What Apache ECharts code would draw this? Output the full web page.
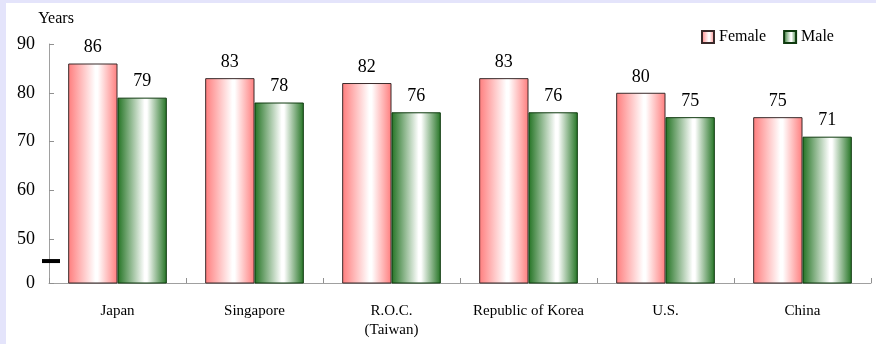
<!DOCTYPE html>
<html>
<head>
<meta charset="utf-8">
<script src="https://cdn.jsdelivr.net/npm/echarts@6/dist/echarts.min.js"></script>
<style>
  html, body { margin: 0; padding: 0; background: #fff; }
  #chart { width: 876px; height: 344px; }
</style>
</head>
<body>
<div id="chart"></div>
<script>
// Life expectancy at birth by country, in years
const countries = ['Japan', 'Singapore', 'R.O.C.\n(Taiwan)', 'Republic of Korea', 'U.S.', 'China'];
const female = [86, 83, 82, 83, 80, 75];
const male = [79, 78, 76, 76, 75, 71];
// Value axis: lower part is cut, the bottom is still labelled 0
const axisBottom = 41;
const axisTop = 90;
const tickValues = [41, 50, 60, 70, 80, 90];

const serif = '"Liberation Serif", "DejaVu Serif", serif';

function barGradient(edge) {
  return new echarts.graphic.LinearGradient(0, 0, 1, 0, [
    { offset: 0, color: edge },
    { offset: 0.55, color: '#ffffff' },
    { offset: 0.6, color: '#ffffff' },
    { offset: 1, color: edge }
  ]);
}

const chart = echarts.init(document.getElementById('chart'), null, { renderer: 'canvas' });

const valueLabel = {
  show: true,
  position: 'top',
  distance: 7,
  color: '#000',
  fontFamily: serif,
  fontSize: 18
};

chart.setOption({
  backgroundColor: '#ffffff',
  animation: false,
  grid: { left: 49, right: 5, top: 44, bottom: 61 },
  legend: {
    top: 24,
    left: 696,
    itemWidth: 12,
    itemHeight: 12,
    itemGap: 17,
    icon: 'rect',
    textStyle: { fontFamily: serif, fontSize: 16, color: '#000' },
    data: ['Female', 'Male']
  },
  xAxis: {
    type: 'category',
    data: countries,
    axisLine: { lineStyle: { color: '#a0a0a0', width: 1 } },
    axisTick: { show: true, inside: true, interval: 0, length: 5, lineStyle: { color: '#909090', width: 1 } },
    axisLabel: {
      interval: 0,
      margin: 19,
      color: '#000',
      fontFamily: serif,
      fontSize: 15,
      lineHeight: 19
    }
  },
  yAxis: {
    type: 'value',
    name: 'Years',
    nameLocation: 'end',
    nameGap: 17,
    nameTextStyle: { fontFamily: serif, fontSize: 16, color: '#000', align: 'center', padding: [0, 0, 0, 14] },
    min: axisBottom,
    max: axisTop,
    axisLine: { show: true, lineStyle: { color: '#a0a0a0', width: 1 } },
    axisTick: { show: true, inside: true, length: 5, customValues: tickValues, lineStyle: { color: '#909090', width: 1 } },
    splitLine: { show: false },
    axisLabel: {
      customValues: tickValues,
      margin: 14,
      color: '#000',
      fontFamily: serif,
      fontSize: 18,
      formatter: v => (v === axisBottom ? '0' : String(v))
    }
  },
  series: [
    {
      name: 'Female',
      type: 'bar',
      data: female,
      barGap: '0%',
      barCategoryGap: '28%',
      itemStyle: { color: barGradient('#ff7d7d'), borderColor: '#3a2a2a', borderWidth: 1 },
      label: valueLabel
    },
    {
      name: 'Male',
      type: 'bar',
      data: male,
      itemStyle: { color: barGradient('#237323'), borderColor: '#0f3a0f', borderWidth: 1 },
      label: valueLabel
    }
  ]
});

// Frame bands and the axis-break dash between 0 and 50
const breakY = chart.convertToPixel({ yAxisIndex: 0 }, 45.5);
const step = chart.convertToPixel({ xAxisIndex: 0 }, 1) - chart.convertToPixel({ xAxisIndex: 0 }, 0);
const axisX = chart.convertToPixel({ xAxisIndex: 0 }, 0) - step / 2;
chart.setOption({
  graphic: [
    { type: 'rect', z: 100, shape: { x: 0, y: 0, width: 876, height: 3 }, style: { fill: '#e4e4fb' }, silent: true },
    { type: 'rect', z: 100, shape: { x: 0, y: 0, width: 6, height: 344 }, style: { fill: '#e4e4fb' }, silent: true },
    { type: 'rect', z: 100, shape: { x: axisX - 7, y: breakY - 2, width: 18, height: 4 }, style: { fill: '#000' }, silent: true }
  ]
});
</script>
</body>
</html>
